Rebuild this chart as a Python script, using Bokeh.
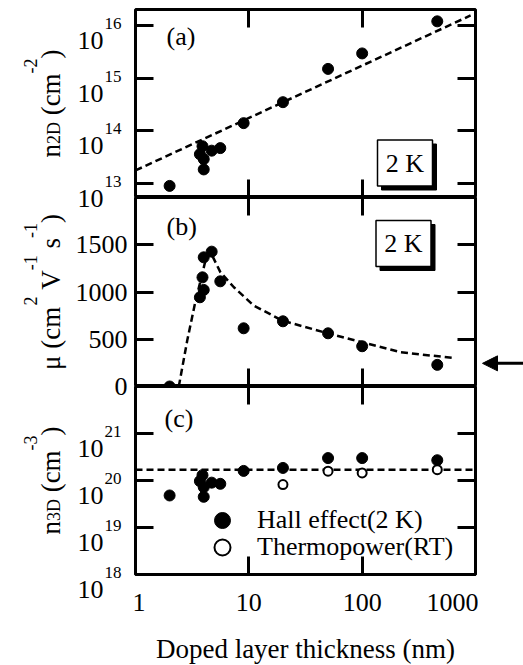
import math
from bokeh.plotting import figure
from bokeh.layouts import column, row
from bokeh.models import (Range1d, FixedTicker, LogAxis, LinearAxis, Label, Legend, LegendItem, LogScale,
                          LinearScale, Arrow, NormalHead, BoxAnnotation, NumeralTickFormatter,
                          CustomJSTickFormatter)
from bokeh.embed import file_html
from bokeh.resources import INLINE

# ---------------- data ----------------
thickness_nm = [2, 3.7, 3.9, 4.0, 4.0, 4.7, 5.6, 9, 20, 50, 100, 460]
n2d_hall = [9.0e12, 3.6e13, 5.1e13, 2.9e13, 1.85e13, 4.2e13, 4.7e13, 1.4e14, 3.5e14, 1.5e15, 2.95e15, 1.2e16]
mobility_hall = [0, 944, 1155, 1367, 1022, 1427, 1113, 616, 690, 563, 426, 229]
n3d_hall = [4.8e19, 9.7e19, 1.3e20, 7.2e19, 4.5e19, 9.0e19, 8.5e19, 1.6e20, 1.85e20, 3.0e20, 3.0e20, 2.7e20]
thermo_thickness_nm = [20, 50, 100, 460]
n3d_thermo = [8.2e19, 1.58e20, 1.45e20, 1.7e20]
fit_a_x = [1, 905]
fit_a_y = [1.77e13, 1.55e16]
guide_b_x = [2.41, 2.86, 3.39, 3.88, 4.14, 4.6, 5.62, 7.38, 11.07, 19.7, 49.5, 100, 218, 667]
guide_b_y = [0, 486, 909, 1191, 1332, 1420, 1208, 1050, 856, 698, 563, 468, 363, 299]
fit_c_x = [1, 1000]
fit_c_y = [1.7e20, 1.7e20]
bulk_mobility = 245
x_ticks = [1, 10, 100, 1000]
n2d_exponents = [13, 14, 15, 16]
n2d_span = (12.734, 16.304)          # log10 limits of panel (a)
mu_ticks = [0, 500, 1000, 1500]
mu_span = (0, 2000)
n3d_exponents = [18, 19, 20, 21]
n3d_span = (18, 22)                  # log10 limits of panel (c)
legend_labels = ["Hall effect(2 K)", "Thermopower(RT)"]
panel_tags = ["(a)", "(b)", "(c)"]
temp_tag = "2 K"

# ---------------- layout constants ----------------
FONT = "Liberation Serif"
TOTAL_H = 665
FRAME_W = 340
SIDE_L = 132       # left side canvas (tick labels / axis titles)
MAIN_PAD = 3       # main canvas border left/right
SIDE_R = 45        # right side canvas (arrow)
TOP = 9
H_A, H_B, H_C = 188, 189, 188
BOTTOM_C = TOTAL_H - TOP - H_A - H_B - H_C
EMPTY = CustomJSTickFormatter(code="return ''")

W = {'n': .5, '2': .5, '3': .5, 'D': .722, ' ': .25, '(': .333, 'c': .444, 'm': .778,
     '-': .333, ')': .333, '\u03bc': .576, 'V': .722, 's': .389, '1': .5}


def base_fig(y_type, y_rng, frame_h, top, bottom):
    p = figure(title=None, x_axis_type="log", y_axis_type=y_type,
               x_range=Range1d(x_ticks[0], x_ticks[-1]), y_range=y_rng,
               frame_width=FRAME_W, frame_height=frame_h,
               min_border_left=MAIN_PAD, min_border_right=MAIN_PAD,
               min_border_top=top, min_border_bottom=bottom,
               output_backend="svg", toolbar_location=None)
    p.outline_line_color = "black"
    p.outline_line_width = 3
    p.outline_line_alpha = 1
    p.xgrid.visible = False
    p.ygrid.visible = False
    p.background_fill_color = "white"
    p.border_fill_color = "white"
    return p


def side_fig(y_type, y_rng, frame_h, top, width):
    s = figure(title=None, y_axis_type=y_type, x_range=Range1d(0, width), y_range=y_rng,
               frame_width=width, frame_height=frame_h,
               min_border_left=0, min_border_right=0, min_border_top=top, min_border_bottom=0,
               x_axis_location=None, y_axis_location=None,
               output_backend="svg", toolbar_location=None)
    s.outline_line_color = None
    s.xgrid.visible = False
    s.ygrid.visible = False
    s.background_fill_color = "white"
    s.border_fill_color = "white"
    return s


def style_axis(ax, ticks, labels=False, size=26, standoff=8):
    ax.ticker = FixedTicker(ticks=ticks, minor_ticks=[])
    ax.major_tick_in = 18
    ax.major_tick_out = 0
    ax.minor_tick_in = 0
    ax.minor_tick_out = 0
    ax.major_tick_line_width = 3
    ax.major_tick_line_color = "black"
    ax.axis_line_color = None
    if labels:
        ax.major_label_text_font = FONT
        ax.major_label_text_font_size = f"{size}px"
        ax.major_label_text_color = "black"
        ax.major_label_standoff = standoff
    else:
        ax.formatter = EMPTY
        ax.major_label_text_font_size = "0px"
        ax.major_label_standoff = 0


def add_axes(p, y_is_log, yticks, x_bottom_labels=False):
    bottom_ax = p.xaxis[0]
    left_ax = p.yaxis[0]
    style_axis(bottom_ax, x_ticks if x_bottom_labels else x_ticks[1:-1], labels=x_bottom_labels, standoff=19)
    if x_bottom_labels:
        bottom_ax.formatter = NumeralTickFormatter(format="0")
    style_axis(left_ax, yticks)
    top_ax = LogAxis()
    style_axis(top_ax, x_ticks[1:-1])
    p.add_layout(top_ax, "above")
    right_ax = LogAxis() if y_is_log else LinearAxis()
    style_axis(right_ax, yticks)
    p.add_layout(right_ax, "right")
    return bottom_ax


def text(p, x, y, s, size, dx=0, dy=0, align="left", baseline="alphabetic", angle=0.0, yr="default"):
    p.add_layout(Label(x=x, y=y, x_offset=dx, y_offset=dy, text=s, text_font=FONT,
                       text_font_size=f"{size}px", text_align=align, text_baseline=baseline,
                       angle=angle, text_color="black", y_range_name=yr))


def twidth(s, size):
    return sum(W[ch] for ch in s) * size


def y_title(s, pieces, frame_h, y0, yr, baseline_x=50):
    total = sum(twidth(t, sz) for t, sz, _ in pieces)
    pos = (frame_h - total) / 2
    for t, sz, shift in pieces:
        lead = len(t) - len(t.lstrip(" "))
        pos += lead * W[' '] * sz
        core = t.lstrip(" ")
        text(s, baseline_x, y0, core, sz, dx=-shift, dy=pos, angle=math.pi / 2, yr=yr)
        pos += twidth(core, sz)


def log_tick_labels(s, exps, yr, right=SIDE_L - 29):
    for e in exps:
        text(s, right, 10.0 ** e, "10", 26, dy=-15, align="right", yr=yr)
        text(s, right + 1, 10.0 ** e, str(e), 17, dy=2, align="left", yr=yr)


def k_box(p, y0, cx, cy, w=55, h=46):
    p.add_layout(BoxAnnotation(left=cx - w / 2 + 4, right=cx + w / 2 + 4, bottom=cy - h / 2 - 4, top=cy + h / 2 - 4,
                               left_units="screen", right_units="screen", bottom_units="screen", top_units="screen",
                               fill_color="black", fill_alpha=1, line_color="black", line_alpha=1, line_width=1))
    p.add_layout(BoxAnnotation(left=cx - w / 2, right=cx + w / 2, bottom=cy - h / 2, top=cy + h / 2,
                               left_units="screen", right_units="screen", bottom_units="screen", top_units="screen",
                               fill_color="white", fill_alpha=1, line_color="black", line_alpha=1, line_width=1.5))
    text(p, x_ticks[0], y0, temp_tag, 26, dx=cx, dy=cy, align="center", baseline="middle")


def full_height_range(lo, hi, frame_top, frame_h, log):
    """Extend a panel's value span to the whole side-canvas height (same px per unit)."""
    per_px = (hi - lo) / frame_h
    below = TOTAL_H - (frame_top + frame_h)
    new_lo = lo - below * per_px
    new_hi = hi + frame_top * per_px
    if log:
        return Range1d(10 ** new_lo, 10 ** new_hi)
    return Range1d(new_lo, new_hi)


# ---------------- panel (a) ----------------
ya = Range1d(10 ** n2d_span[0], 10 ** n2d_span[1])
pa = base_fig("log", ya, H_A, TOP, 0)
add_axes(pa, True, [10.0 ** e for e in n2d_exponents])
pa.line(fit_a_x, fit_a_y, line_color="black", line_width=2.5, line_dash="7 4")
pa.scatter(thickness_nm, n2d_hall, marker="circle", size=11, fill_color="black", line_color="black")
text(pa, x_ticks[0], ya.end, panel_tags[0], 26, dx=31, dy=-27)
k_box(pa, ya.start, 269.5, 34.5)

# ---------------- panel (b) ----------------
yb = Range1d(mu_span[0], mu_span[1])
pb = base_fig("linear", yb, H_B, 0, 0)
add_axes(pb, False, mu_ticks)
pb.line(guide_b_x, guide_b_y, line_color="black", line_width=2.5, line_dash="7 4")
pb.scatter(thickness_nm, mobility_hall, marker="circle", size=11, fill_color="black", line_color="black")
text(pb, x_ticks[0], yb.end, panel_tags[1], 26, dx=31, dy=-29)
k_box(pb, yb.start, 268, 143)
rb = side_fig("linear", yb, H_B, 0, SIDE_R)
rb.add_layout(Arrow(end=NormalHead(size=15, fill_color="black", line_color="black"),
                    x_start=SIDE_R, y_start=bulk_mobility, x_end=4, y_end=bulk_mobility,
                    line_color="black", line_width=3))

# ---------------- panel (c) ----------------
yc = Range1d(10 ** n3d_span[0], 10 ** n3d_span[1])
pc = base_fig("log", yc, H_C, 0, BOTTOM_C)
xc = add_axes(pc, True, [10.0 ** e for e in n3d_exponents], x_bottom_labels=True)
xc.axis_label = "Doped layer thickness (nm)"
xc.axis_label_text_font = FONT
xc.axis_label_text_font_size = "27px"
xc.axis_label_text_font_style = "normal"
xc.axis_label_text_color = "black"
xc.axis_label_standoff = 20
pc.line(fit_c_x, fit_c_y, line_color="black", line_width=2.5, line_dash="7 4")
r_hall = pc.scatter(thickness_nm, n3d_hall, marker="circle", size=11, fill_color="black", line_color="black")
r_thermo = pc.scatter(thermo_thickness_nm, n3d_thermo, marker="circle", size=9, fill_color="white",
                      line_color="black", line_width=2)
text(pc, x_ticks[0], yc.end, panel_tags[2], 26, dx=29, dy=-32)
for item_label, rend, ly in [(legend_labels[0], r_hall, 34), (legend_labels[1], r_thermo, 7)]:
    pc.add_layout(Legend(items=[LegendItem(label=item_label, renderers=[rend])],
                         location=(67, ly), glyph_width=40, glyph_height=40, padding=0, margin=0,
                         label_standoff=15, label_text_font=FONT, label_text_font_size="26px",
                         label_text_color="black", background_fill_alpha=0, border_line_color=None))

# ---------------- left side: tick labels and axis titles for all panels ----------------
side = side_fig("linear", Range1d(0, TOTAL_H), TOTAL_H, 0, SIDE_L)
ra = full_height_range(n2d_span[0], n2d_span[1], TOP, H_A, True)
rbb = full_height_range(mu_span[0], mu_span[1], TOP + H_A, H_B, False)
rc = full_height_range(n3d_span[0], n3d_span[1], TOP + H_A + H_B, H_C, True)
side.extra_y_ranges = {"a": ra, "b": rbb, "c": rc}
side.extra_y_scales = {"a": LogScale(), "b": LinearScale(), "c": LogScale()}

log_tick_labels(side, n2d_exponents, "a")
y_title(side, [("n", 27, 0), ("2D", 18, -3), (" (cm", 27, 0), ("-2", 18, 20), (")", 27, 0)],
        H_A, ya.start, "a")
for t in mu_ticks:
    text(side, SIDE_L - 5, t, str(t), 26, align="right", baseline="middle", yr="b")
y_title(side, [("\u03bc (cm", 27, 0), ("2", 18, 20), (" V", 27, 0), ("-1", 18, 20), (" s", 27, 0),
               ("-1", 18, 20), (")", 27, 0)], H_B, yb.start, "b")
log_tick_labels(side, n3d_exponents, "c")
y_title(side, [("n", 27, 0), ("3D", 18, -3), (" (cm", 27, 0), ("-3", 18, 20), (")", 27, 0)],
        H_C, yc.start, "c")

panels = column(pa, row(pb, rb, spacing=0), pc, spacing=0)
layout = row(side, panels, spacing=0)
open("out.html", "w").write(file_html(layout, INLINE))
